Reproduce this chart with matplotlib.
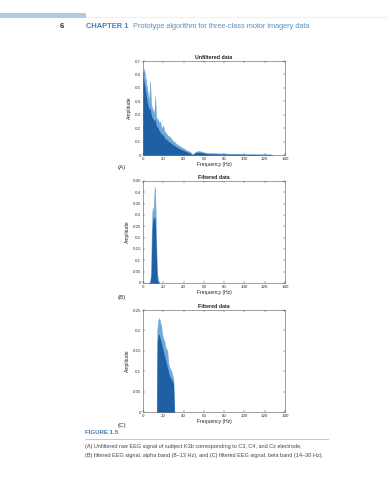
import numpy as np
import matplotlib
matplotlib.use('Agg')
import matplotlib.pyplot as plt
from matplotlib.patches import Rectangle
from matplotlib.lines import Line2D

# data (amplitude vs frequency)
freq_a = [0, 1, 2, 3, 4, 5, 6, 7, 8, 9, 10, 11, 12, 13, 14, 15, 16, 17, 18, 19,
          20, 21, 22, 23, 24, 25, 26, 27, 28, 29, 30, 31, 32, 33, 34, 35, 36, 37, 38, 39,
          40, 41, 42, 43, 44, 45, 46, 47, 48, 49, 50, 52, 55, 58, 60, 65, 70, 75, 80, 85,
          90, 95, 100, 105, 110, 115, 120, 125, 128]
peak_a = [0.62, 0.64, 0.60, 0.55, 0.50, 0.45, 0.40, 0.55, 0.38, 0.35, 0.33, 0.30, 0.44, 0.28, 0.27, 0.26, 0.24, 0.25, 0.21, 0.20,
          0.22, 0.18, 0.17, 0.16, 0.15, 0.14, 0.14, 0.13, 0.12, 0.11, 0.10, 0.10, 0.09, 0.08, 0.08, 0.07, 0.07, 0.06, 0.06, 0.05,
          0.05, 0.045, 0.04, 0.035, 0.03, 0.03, 0.025, 0.02, 0.01, 0.008, 0.012, 0.025, 0.03, 0.025, 0.02, 0.015, 0.015, 0.012, 0.012, 0.01,
          0.01, 0.01, 0.008, 0.008, 0.008, 0.007, 0.006, 0.006, 0.0]
body_a = [0.58, 0.55, 0.50, 0.45, 0.40, 0.37, 0.34, 0.35, 0.30, 0.28, 0.27, 0.25, 0.27, 0.22, 0.21, 0.20, 0.18, 0.17, 0.16, 0.15,
          0.15, 0.13, 0.12, 0.12, 0.11, 0.10, 0.10, 0.09, 0.085, 0.08, 0.075, 0.07, 0.065, 0.06, 0.055, 0.05, 0.048, 0.045, 0.04, 0.038,
          0.035, 0.03, 0.028, 0.025, 0.02, 0.018, 0.015, 0.01, 0.005, 0.004, 0.008, 0.018, 0.02, 0.017, 0.012, 0.009, 0.008, 0.007, 0.006, 0.006,
          0.005, 0.005, 0.004, 0.004, 0.004, 0.003, 0.003, 0.003, 0.0]

freq_b = [6, 7, 8, 8.5, 9, 9.5, 10, 10.5, 11, 11.5, 12, 12.5, 13, 13.5, 14, 15, 16]
peak_b = [0, 0.01, 0.06, 0.22, 0.30, 0.335, 0.30, 0.33, 0.38, 0.425, 0.41, 0.30, 0.20, 0.10, 0.04, 0.015, 0]
body_b = [0, 0.005, 0.03, 0.15, 0.24, 0.27, 0.28, 0.29, 0.29, 0.29, 0.28, 0.22, 0.15, 0.07, 0.02, 0.005, 0]

freq_c = [13.5, 14, 15, 16, 17, 18, 19, 20, 21, 22, 23, 24, 25, 26, 27, 28, 29, 30, 31]
peak_c = [0, 0.20, 0.225, 0.23, 0.22, 0.21, 0.19, 0.18, 0.175, 0.16, 0.155, 0.15, 0.12, 0.11, 0.105, 0.10, 0.09, 0.08, 0]
body_c = [0, 0.17, 0.19, 0.19, 0.18, 0.17, 0.16, 0.15, 0.14, 0.13, 0.12, 0.11, 0.10, 0.09, 0.085, 0.08, 0.075, 0.07, 0]

yticks_a = [0, 0.1, 0.2, 0.3, 0.4, 0.5, 0.6, 0.7]
yticks_b = [0, 0.05, 0.1, 0.15, 0.2, 0.25, 0.3, 0.35, 0.4, 0.45]
yticks_c = [0, 0.05, 0.1, 0.15, 0.2, 0.25]
xticks = [0, 20, 40, 60, 80, 100, 120, 140]

W, H = 388, 480
dark = '#1f5fa6'
light = '#6fa9d8'
tickcol = '#333333'
blue_head = '#3f7fb5'

plt.rcParams['font.family'] = ['Liberation Sans', 'DejaVu Sans']


def fx(x):
    return x / W


def fy(y):
    return 1 - y / H


def panel(fig, left, top, right, bottom, f, peak, body, yt, title):
    ax = fig.add_axes([fx(left), fy(bottom), fx(right - left), (bottom - top) / H])
    ax.fill_between(f, peak, color=light, lw=0.3)
    ax.fill_between(f, body, color=dark, lw=0)
    ax.set_xlim(0, 140)
    ax.set_ylim(yt[0], yt[-1])
    ax.set_xticks(xticks)
    ax.set_yticks(yt)
    ax.set_yticklabels([('%g' % v) for v in yt])
    ax.tick_params(direction='in', length=1.5, width=0.3, labelsize=3.2,
                   colors=tickcol, top=True, right=True, pad=1.5)
    for s in ax.spines.values():
        s.set_linewidth(0.4)
        s.set_color('#555555')
    ax.set_title(title, fontsize=3.8, fontweight='bold', pad=1.2, color='#222222')
    ax.set_xlabel('Frequency (Hz)', fontsize=3.6, labelpad=1, color='#222222')
    ax.set_ylabel('Amplitude', fontsize=3.6, labelpad=2, color='#222222')
    return ax


fig = plt.figure(figsize=(W / 100, H / 100), dpi=100)

# page header
fig.patches.append(Rectangle((0, fy(17.5)), fx(86), 4.5 / H, transform=fig.transFigure,
                             color='#b7c8dd', lw=0))
fig.lines.append(Line2D([fx(86), 1], [fy(17), fy(17)], transform=fig.transFigure,
                        color='#e2e9f0', lw=0.5))
fig.text(fx(60), fy(26), '6', fontsize=5.6, fontweight='bold', color='#333333', va='center')
fig.text(fx(86), fy(26), 'CHAPTER 1', fontsize=5.4, fontweight='bold', color=blue_head, va='center')
fig.text(fx(133), fy(26), 'Prototype algorithm for three-class motor imagery data',
         fontsize=5.35, color='#5a8fbf', va='center')

panel(fig, 143, 61, 285, 155, freq_a, peak_a, body_a, yticks_a, 'Unfiltered data')
panel(fig, 143, 181, 285, 283, freq_b, peak_b, body_b, yticks_b, 'Filtered data')
panel(fig, 143, 310, 285, 412, freq_c, peak_c, body_c, yticks_c, 'Filtered data')

fig.text(fx(118), fy(167), '(A)', fontsize=4.5, color='#333333', va='center')
fig.text(fx(118), fy(298), '(B)', fontsize=4.5, color='#333333', va='center')
fig.text(fx(118), fy(425), '(C)', fontsize=4.5, color='#333333', va='center')

# caption
fig.text(fx(85), fy(433), 'FIGURE 1.5', fontsize=4.4, fontweight='bold', color=blue_head, va='center')
fig.lines.append(Line2D([fx(85), fx(328)], [fy(439), fy(439)], transform=fig.transFigure,
                        color='#a9c4d8', lw=0.6))
fig.text(fx(85), fy(446.5), '(A) Unfiltered raw EEG signal of subject K3b corresponding to C3, C4, and Cz electrode,',
         fontsize=3.97, color='#444444', va='center')
fig.text(fx(85), fy(455.5), '(B) filtered EEG signal, alpha band (8\u201313 Hz), and (C) filtered EEG signal, beta band (14\u201330 Hz).',
         fontsize=3.97, color='#444444', va='center')

plt.savefig('out.png', dpi=100)
